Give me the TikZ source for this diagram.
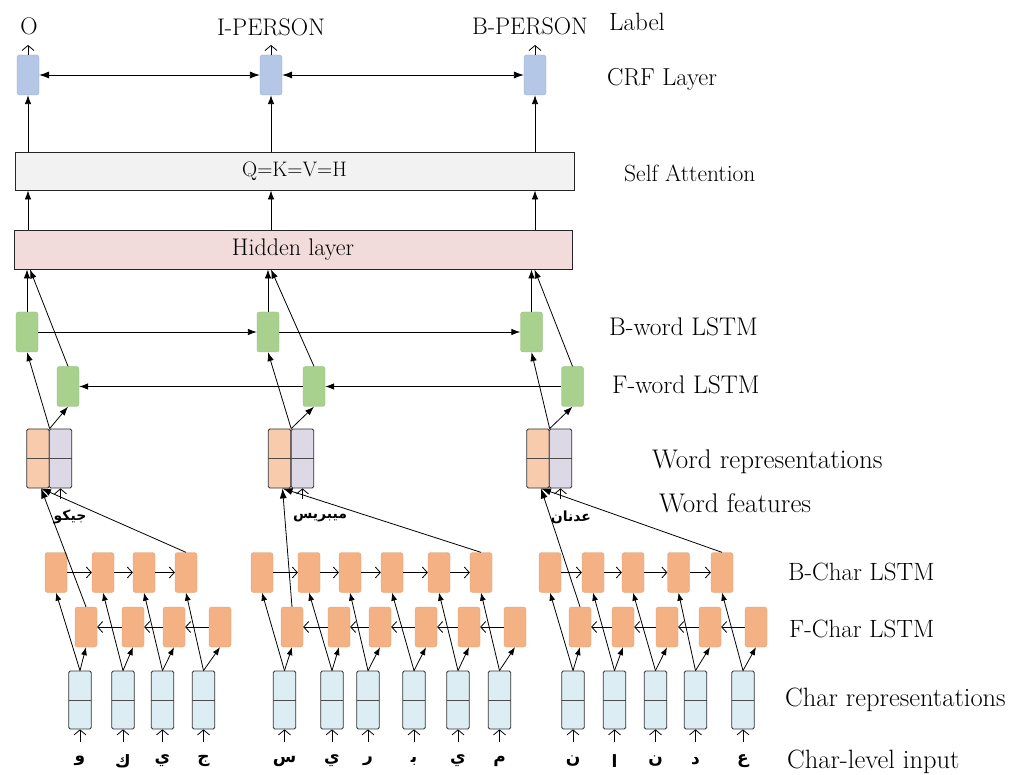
\documentclass[tikz,border=0pt]{standalone}
\usepackage{fontspec}
\newfontfamily\arabicfont[Script=Arabic]{DejaVu Sans}
\TeXXeTstate=1
\usetikzlibrary{arrows.meta,calc}
\definecolor{crfblue}{HTML}{B4C7E7}
\definecolor{wgreen}{HTML}{A9D18E}
\definecolor{corange}{HTML}{F4B183}
\definecolor{worange}{HTML}{F8CBAD}
\definecolor{wlav}{HTML}{DCD8E6}
\definecolor{crblue}{HTML}{DCEEF3}
\definecolor{sagray}{HTML}{F2F2F2}
\definecolor{hidpink}{HTML}{F2DCDB}
\newcommand\myfs[1]{\fontsize{#1}{#1}\selectfont}
\begin{document}
\begin{tikzpicture}[x=1pt,y=-1pt,
  lstm/.style={minimum width=22pt,minimum height=40pt,inner sep=0pt,rounded corners=2.5pt},
  crfbox/.style={lstm,fill=crfblue,draw=crfblue!85!black,line width=0.3pt},
  gbox/.style={lstm,fill=wgreen,draw=wgreen!85!black,line width=0.3pt},
  obox/.style={lstm,fill=corange,draw=corange!90!black,line width=0.3pt},
  cell/.style={minimum width=22.5pt,minimum height=59pt,inner sep=0pt,rounded corners=1.5pt,
    draw=black!80,line width=0.8pt,
    path picture={\draw[black!70,line width=0.9pt] (path picture bounding box.west) -- (path picture bounding box.east);}},
  crep/.style={cell,fill=crblue,minimum height=58pt},
  wor/.style={cell,fill=worange},
  wlv/.style={cell,fill=wlav},
  layer/.style={draw=black!85,line width=0.9pt,inner sep=0pt},
  top/.style={font=\myfs{24},inner sep=0pt},
  side/.style={anchor=west,inner sep=0pt},
  chr/.style={font=\arabicfont\bfseries\myfs{17},inner sep=0pt},
  wlab/.style={font=\arabicfont\bfseries\myfs{14},inner sep=0pt},
  arr/.style={line width=0.8pt,-{Latex[length=9pt,width=6.5pt]}},
  darr/.style={line width=0.8pt,{Latex[length=10pt,width=7pt]}-{Latex[length=10pt,width=7pt]}},
  warr/.style={line width=0.8pt,-{Latex[length=10pt,width=7pt]}},
  sarr/.style={line width=0.8pt,-{Latex[length=8pt,width=6pt]}},
  oarr/.style={line width=0.8pt,-{Straight Barb[length=5pt,width=12pt]}},
  harr/.style={line width=0.8pt,-{Straight Barb[length=5pt,width=11pt]}}
]
\useasboundingbox (0,0) rectangle (1023,775);

% ---------- labels and CRF ----------
\node[top] (lab1) at (29,26) {O};
\node[top] (lab2) at (271,27) {I-PERSON};
\node[top] (lab3) at (530,26) {B-PERSON};
\node[crfbox] (crf1) at (28,75) {};
\node[crfbox] (crf2) at (271,75) {};
\node[crfbox] (crf3) at (535,75) {};
\coordinate (l1) at (28,45);
\coordinate (l2) at (271,45);
\coordinate (l3) at (535,45);
\draw[oarr] (crf1.north) -- (l1);
\draw[oarr] (crf2.north) -- (l2);
\draw[oarr] (crf3.north) -- (l3);
\draw[darr] (crf1.east) -- (crf2.west);
\draw[darr] (crf2.east) -- (crf3.west);

% ---------- self attention and hidden layer ----------
\node[layer,fill=sagray,minimum width=559pt,minimum height=38pt,font=\myfs{21}] (sa) at (294.5,171) {Q=K=V=H};
\node[layer,fill=hidpink,minimum width=558pt,minimum height=39pt,font=\myfs{24}] (hid) at (293,249.5) {Hidden layer};
\foreach \k in {1,2,3} {
  \draw[arr] (sa.north -| crf\k) -- (crf\k.south);
  \draw[arr] (hid.north -| crf\k) -- (sa.south -| crf\k);
}

% ---------- word LSTMs ----------
\node[gbox] (bw1) at (27,332) {};
\node[gbox] (bw2) at (268,332) {};
\node[gbox] (bw3) at (531.5,332) {};
\node[gbox] (fw1) at (68,386.5) {};
\node[gbox] (fw2) at (314,386.5) {};
\node[gbox] (fw3) at (572.5,386.5) {};
\draw[arr] (bw1.east) -- (bw2.west);
\draw[arr] (bw2.east) -- (bw3.west);
\draw[arr] (fw3.west) -- (fw2.east);
\draw[arr] (fw2.west) -- (fw1.east);
\foreach \k in {1,2,3} {
  \draw[arr] (bw\k.north) -- (hid.south -| bw\k);
  \draw[arr] (fw\k.north) -- ($(hid.south -| bw\k)+(3,0)$);
}

% ---------- word representations ----------
\node[wor] (wo1) at (38,458.5) {};
\node[wlv] (wl1) at (60.5,458.5) {};
\node[wor] (wo2) at (279.5,458.5) {};
\node[wlv] (wl2) at (302.5,458.5) {};
\node[wor] (wo3) at (538,458.5) {};
\node[wlv] (wl3) at (560.5,458.5) {};
\foreach \k in {1,2,3} {
  \draw[arr] (wo\k.north east) -- (bw\k.south);
  \draw[arr] (wo\k.north east) -- (fw\k.south);
  \coordinate (wi\k) at ($(wo\k.south)+(3,0)$);
  \coordinate (wf\k) at ($(wl\k.south)+(0,11)$);
  \draw[oarr] (wf\k) -- (wl\k.south);
}
\node[wlab] (wA) at (70,517) {\arabicfont\beginR جيكو\endR};
\node[wlab] (wB) at (320,518) {\arabicfont\beginR ميبريس\endR};
\node[wlab] (wC) at (571,517) {\arabicfont\beginR عدنان\endR};

% ---------- characters, group A ----------
\foreach \i/\x in {1/56,2/103,3/144,4/186} \node[obox] (bA\i) at (\x,572.5) {};
\foreach \i/\x in {1/86,2/133,3/174,4/220} \node[obox] (fA\i) at (\x,627) {};
\foreach \i/\x/\c in {1/80/و,2/123/ك,3/162.5/ي,4/203.5/ج} {
  \node[crep] (cA\i) at (\x,700) {};
  \node[chr] (tA\i) at (\x,761) {\beginR\c\endR};
  \coordinate (uA\i) at (\x,742);
}
% group B
\foreach \i/\x in {1/262,2/309,3/350,4/392,5/439,6/481} \node[obox] (bB\i) at (\x,572.5) {};
\foreach \i/\x in {1/292,2/339,3/380,4/426,5/469,6/515} \node[obox] (fB\i) at (\x,627) {};
\foreach \i/\x/\c in {1/284.5/س,2/332/ي,3/368/ر,4/414/ﺑ,5/458/ي,6/499.5/م} {
  \node[crep] (cB\i) at (\x,700) {};
  \node[chr] (tB\i) at (\x,761) {\beginR\c\endR};
  \coordinate (uB\i) at (\x,742);
}
% group C
\foreach \i/\x in {1/550,2/593,3/633,4/678.5,5/722} \node[obox] (bC\i) at (\x,572.5) {};
\foreach \i/\x in {1/580,2/623,3/667,4/710,5/756} \node[obox] (fC\i) at (\x,627) {};
\foreach \i/\x/\c in {1/573/ن,2/614.5/ا,3/655.5/ن,4/695.5/د,5/743/ع} {
  \node[crep] (cC\i) at (\x,700) {};
  \node[chr] (tC\i) at (\x,761) {\beginR\c\endR};
  \coordinate (uC\i) at (\x,742);
}

% char connectors
\foreach \g/\n in {A/4,B/6,C/5} {
  \foreach \i in {1,...,\n} {
    \draw[sarr] (c\g\i.north) -- (b\g\i.south);
    \draw[sarr] (c\g\i.north) -- (f\g\i.south);
    \draw[oarr] (u\g\i) -- (c\g\i.south);
  }
  \pgfmathtruncatemacro{\m}{\n-1}
  \foreach \i in {1,...,\m} {
    \pgfmathtruncatemacro{\j}{\i+1}
    \draw[harr] (b\g\i.east) -- (b\g\j.west);
    \draw[harr] (f\g\j.west) -- (f\g\i.east);
  }
}
% char LSTMs to word representations
\draw[warr] (fA1.north) -- (wi1);
\draw[warr] (bA4.north) -- (wi1);
\draw[warr] (fB1.north) -- (wi2);
\draw[warr] (bB6.north) -- (wi2);
\draw[warr] (fC1.north) -- (wi3);
\draw[warr] (bC5.north) -- (wi3);

% ---------- side labels ----------
\node[side,font=\myfs{25}] (sLabel) at (609,22) {Label};
\node[side,font=\myfs{24.5}] (sCRF) at (607,79) {CRF Layer};
\node[side,font=\myfs{23.5}] (sSA) at (624,173) {Self Attention};
\node[side,font=\myfs{25.5}] (sBW) at (609,327) {B-word LSTM};
\node[side,font=\myfs{25.5}] (sFW) at (612,385) {F-word LSTM};
\node[side,font=\myfs{27}] (sWR) at (652,462) {Word representations};
\node[side,font=\myfs{27}] (sWF) at (659,503) {Word features};
\node[side,font=\myfs{25}] (sBC) at (788,572) {B-Char LSTM};
\node[side,font=\myfs{25}] (sFC) at (789,629) {F-Char LSTM};
\node[side,font=\myfs{26.5}] (sCR) at (785,700) {Char representations};
\node[side,font=\myfs{26.5}] (sCI) at (787,762) {Char-level input};
\end{tikzpicture}
\end{document}
